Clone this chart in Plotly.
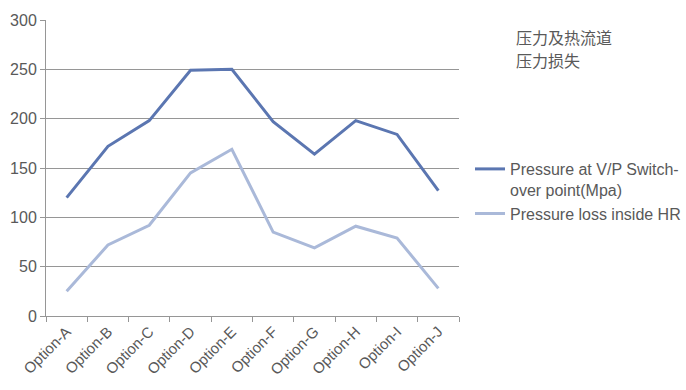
import plotly.graph_objects as go

categories = ["Option-A", "Option-B", "Option-C", "Option-D", "Option-E",
              "Option-F", "Option-G", "Option-H", "Option-I", "Option-J"]
switchover_pressure = [120, 172, 198, 249, 250, 197, 164, 198, 184, 127]
hr_pressure_loss = [25, 72, 92, 145, 169, 85, 69, 91, 79, 28]
series_names = ["Pressure at V/P Switch-<br>over point(Mpa)", "Pressure loss inside HR"]
y_ticks = [0, 50, 100, 150, 200, 250, 300]
title_lines = ["压力及热流道", "压力损失"]

W, H = 686, 390
L, T = 46, 20
pw, ph = 413, 296
R, B = W - L - pw, H - T - ph

def px_x(x):  # screen pixel -> paper x
    return (x - L) / pw

def px_y(y):  # screen pixel -> paper y
    return 1 - (y - T) / ph

fig = go.Figure()
fig.add_trace(go.Scatter(x=categories, y=switchover_pressure, mode="lines",
                         name=series_names[0], line=dict(color="#5B76B1", width=3)))
fig.add_trace(go.Scatter(x=categories, y=hr_pressure_loss, mode="lines",
                         name=series_names[1], line=dict(color="#AAB9D9", width=3)))

annotations = []
for i, line in enumerate(title_lines):
    annotations.append(dict(text=line, x=px_x(514), y=px_y(37 + 23 * i),
                            xref="paper", yref="paper", showarrow=False,
                            xanchor="left", yanchor="middle",
                            font=dict(family="Noto Sans CJK SC", size=16, color="#595959")))

fig.update_layout(
    width=W, height=H,
    margin=dict(l=L, r=R, t=T, b=B, autoexpand=False),
    plot_bgcolor="white", paper_bgcolor="white",
    font=dict(family="Liberation Sans, Arial", color="#595959", size=15),
    showlegend=True,
    legend=dict(x=px_x(470), y=px_y(152), xanchor="left", yanchor="top",
                font=dict(size=16, color="#595959"), valign="top",
                itemwidth=30, tracegroupgap=2, borderwidth=0),
    annotations=annotations,
)

fig.update_xaxes(range=[-0.5, 9.5], automargin=False, showgrid=False, showline=True,
                 linecolor="#969696", linewidth=1,
                 ticks="outside", tickson="boundaries", ticklen=5, tickcolor="#969696",
                 tickangle=-45, tickfont=dict(size=15, color="#595959"))
fig.update_yaxes(range=[0, 300], automargin=False, tickvals=y_ticks, showgrid=True,
                 gridcolor="#969696", gridwidth=1, showline=True, linecolor="#969696",
                 ticks="outside", ticklen=5, tickcolor="#969696", zeroline=False,
                 tickfont=dict(size=16, color="#595959"))

# remove the browser's default page margin so the 686x390 figure fills the window exactly
fig.write_html("out.html", config={"displayModeBar": False},
               post_script="document.body.style.margin='0';document.body.style.overflow='hidden';")
